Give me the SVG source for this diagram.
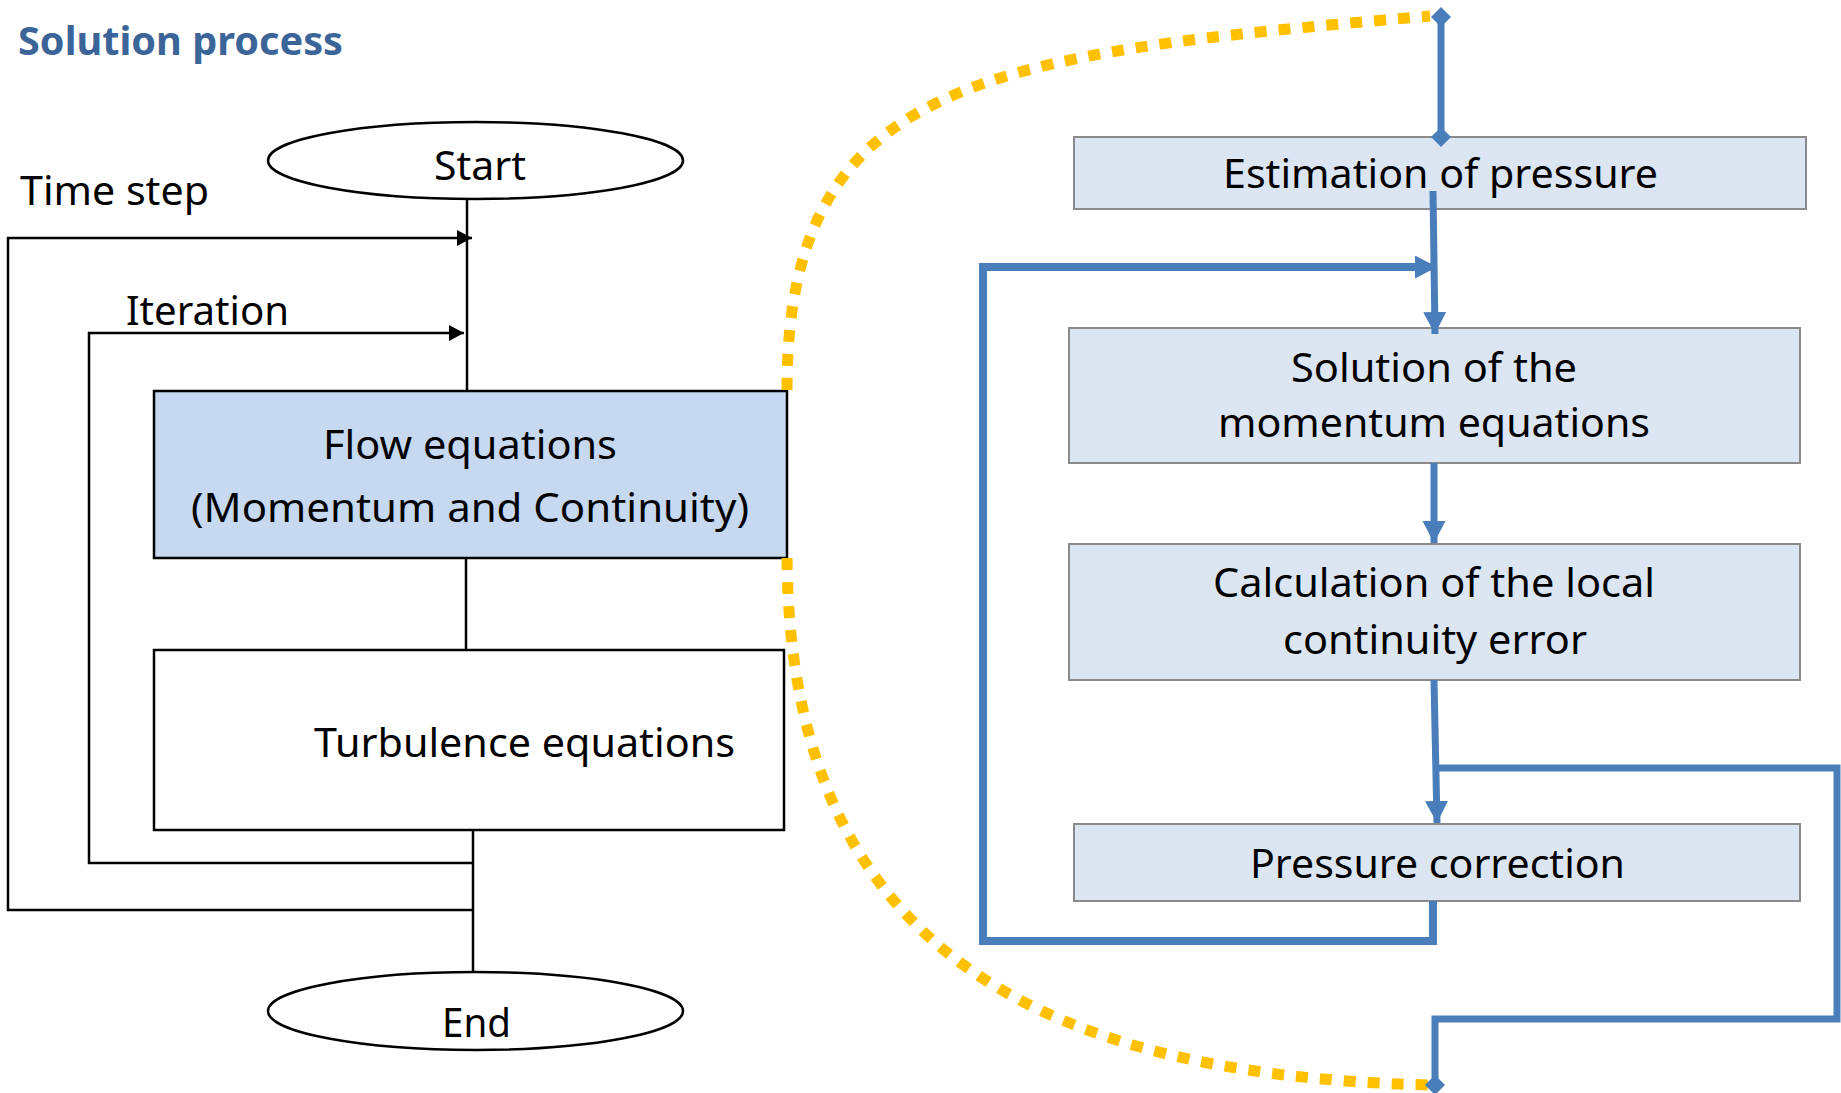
<svg xmlns="http://www.w3.org/2000/svg" width="1841" height="1093" viewBox="0 0 1841 1093">
<style>
  text { font-family: "Noto Sans", "Liberation Sans", sans-serif; font-size: 40px; fill: #000; }
  .title { font-weight: bold; fill: #3b6598; }
  .term { fill: #fff; stroke: #000; stroke-width: 2.5; }
  .flow { fill: #c6d9f0; stroke: #000; stroke-width: 2.5; }
  .plain { fill: #fff; stroke: #000; stroke-width: 2.5; }
  .step { fill: #dce6f2; stroke: #8a8a8a; stroke-width: 2; }
  .bl { fill: none; stroke: #000; stroke-width: 2.5; }
  .blue { fill: none; stroke: #4a7ebb; stroke-width: 7; }
  .loop { fill: none; stroke: #4a7ebb; stroke-width: 8; }
  .dots { fill: none; stroke: #ffc000; stroke-width: 11; stroke-dasharray: 12 12; }
</style>
<defs>
  <marker id="arrK" markerUnits="userSpaceOnUse" markerWidth="16" markerHeight="16" refX="15" refY="8" orient="auto">
    <path d="M0,0 L15,8 L0,16 z" fill="#000"/>
  </marker>
  <marker id="arrB" markerUnits="userSpaceOnUse" markerWidth="23" markerHeight="24" refX="22" refY="11.5" orient="auto">
    <path d="M0,0 L22,11.5 L0,23 z" fill="#4a7ebb"/>
  </marker>
  <marker id="dia" markerUnits="userSpaceOnUse" markerWidth="22" markerHeight="22" refX="10" refY="10" orient="auto">
    <path d="M0,10 L10,0 L20,10 L10,20 z" fill="#4a7ebb"/>
  </marker>
</defs>

<text id="title" class="title" x="18" y="55" textLength="325" lengthAdjust="spacingAndGlyphs">Solution process</text>
<text id="label-timestep" x="20" y="205" textLength="189" lengthAdjust="spacingAndGlyphs">Time step</text>
<text id="label-iteration" x="126" y="325" textLength="163" lengthAdjust="spacingAndGlyphs">Iteration</text>

<g id="start">
  <ellipse class="term" cx="475.5" cy="160.5" rx="207.5" ry="38.5"/>
  <text x="434" y="180" textLength="92" lengthAdjust="spacingAndGlyphs">Start</text>
</g>

<g id="flow">
  <rect class="flow" x="154" y="391" width="633" height="167"/>
  <text x="323" y="459" textLength="294" lengthAdjust="spacingAndGlyphs">Flow equations</text>
  <text x="191" y="522" textLength="558" lengthAdjust="spacingAndGlyphs">(Momentum and Continuity)</text>
</g>

<g id="turbulence">
  <rect class="plain" x="154" y="650" width="630" height="180"/>
  <text x="314" y="757" textLength="421" lengthAdjust="spacingAndGlyphs">Turbulence equations</text>
</g>

<g id="end">
  <ellipse class="term" cx="475.5" cy="1011" rx="207.5" ry="39"/>
  <text x="442" y="1037" textLength="69" lengthAdjust="spacingAndGlyphs">End</text>
</g>

<g id="estimation">
  <rect class="step" x="1074" y="137" width="732" height="72"/>
  <text x="1223" y="188" textLength="435" lengthAdjust="spacingAndGlyphs">Estimation of pressure</text>
</g>

<g id="momentum">
  <rect class="step" x="1069" y="328" width="731" height="135"/>
  <text x="1291" y="382" textLength="286" lengthAdjust="spacingAndGlyphs">Solution of the</text>
  <text x="1218" y="437" textLength="432" lengthAdjust="spacingAndGlyphs">momentum equations</text>
</g>

<g id="continuity">
  <rect class="step" x="1069" y="544" width="731" height="136"/>
  <text x="1213" y="597" textLength="442" lengthAdjust="spacingAndGlyphs">Calculation of the local</text>
  <text x="1283" y="654" textLength="304" lengthAdjust="spacingAndGlyphs">continuity error</text>
</g>

<g id="pressure">
  <rect class="step" x="1074" y="824" width="726" height="77"/>
  <text x="1250" y="878" textLength="375" lengthAdjust="spacingAndGlyphs">Pressure correction</text>
</g>

<g id="connectors">
  <line class="bl" x1="467" y1="199" x2="467" y2="391"/>
  <line class="bl" x1="466" y1="558" x2="466" y2="650"/>
  <line class="bl" x1="473" y1="830" x2="473" y2="972"/>
  <path class="bl" d="M473,863 L89,863 L89,333 L464,333" marker-end="url(#arrK)"/>
  <path class="bl" d="M473,910 L8,910 L8,238 L472,238" marker-end="url(#arrK)"/>

  <path class="dots" d="M787,390 C787,80 980,55 1430,16"/>
  <path class="dots" d="M787,558 C790,920 1000,1075 1430,1085"/>

  <line class="blue" x1="1441" y1="17" x2="1441" y2="137" marker-start="url(#dia)" marker-end="url(#dia)"/>
  <path class="blue" d="M1433,191 L1435,334" marker-end="url(#arrB)"/>
  <path class="loop" d="M1433,901 L1433,941 L983,941 L983,267 L1437,267" marker-end="url(#arrB)"/>
  <path class="blue" d="M1434,463 L1434,543" marker-end="url(#arrB)"/>
  <path class="blue" d="M1434,680 L1437,823" marker-end="url(#arrB)"/>
  <path class="blue" d="M1437,768 L1837,768 L1837,1019 L1435,1019 L1435,1085" marker-end="url(#dia)"/>
</g>
</svg>
